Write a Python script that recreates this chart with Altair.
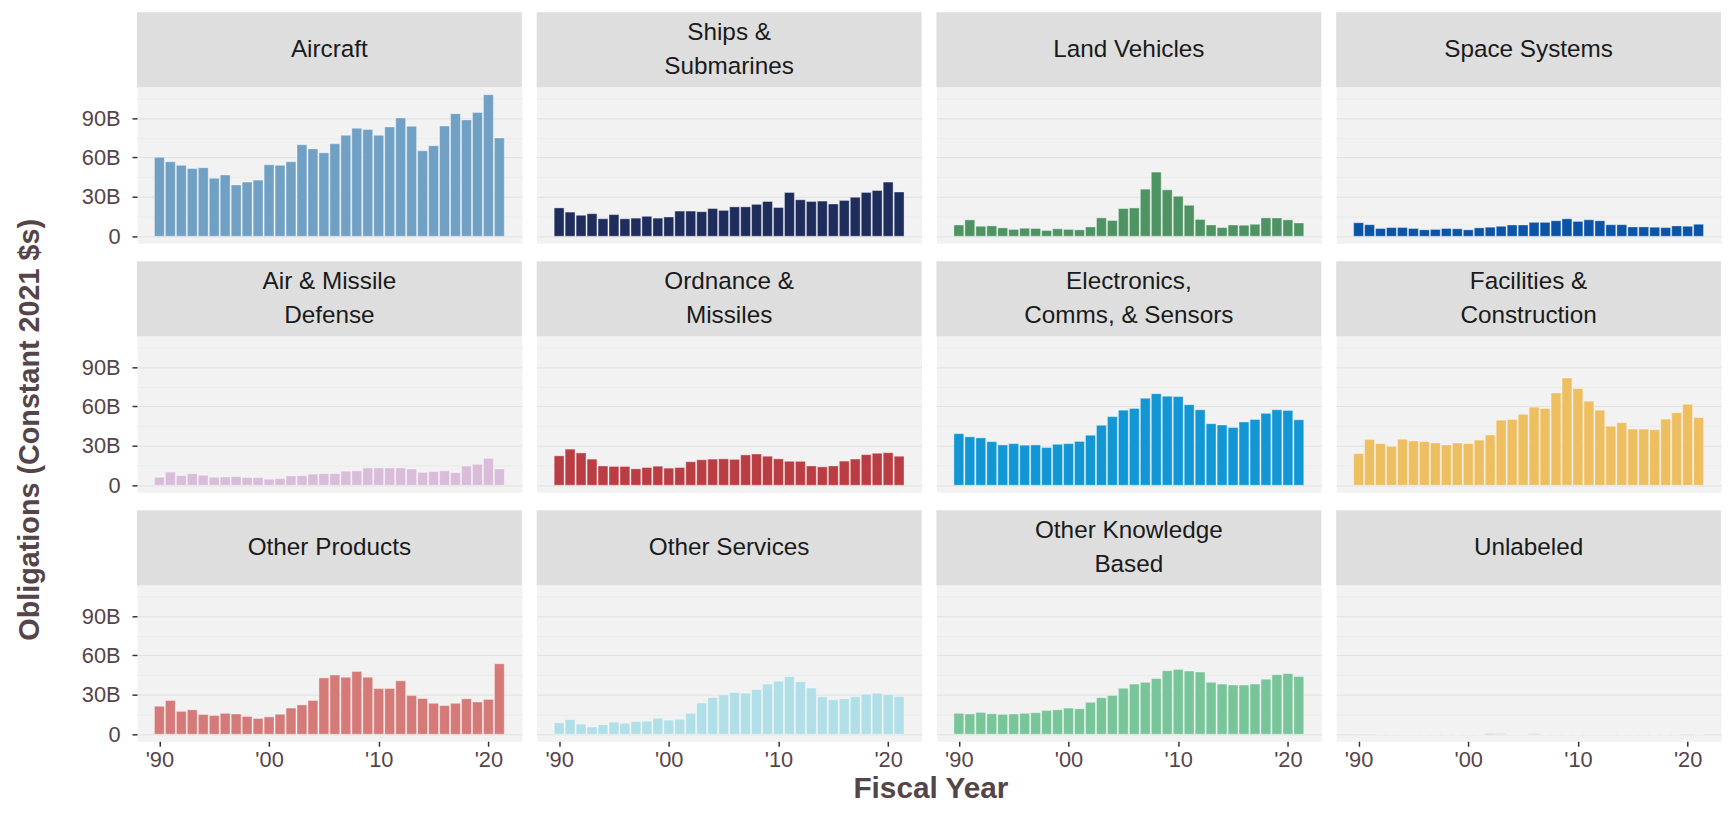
import altair as alt
import pandas as pd

years = list(range(1990, 2022))

categories = [
    "Aircraft", "Ships &\nSubmarines", "Land Vehicles", "Space Systems",
    "Air & Missile\nDefense", "Ordnance &\nMissiles", "Electronics,\nComms, & Sensors", "Facilities &\nConstruction",
    "Other Products", "Other Services", "Other Knowledge\nBased", "Unlabeled",
]

colors = [
    "#70A0C4", "#1E2D5C", "#4E9462", "#0A53A5",
    "#D9BCD9", "#B93D42", "#1297D4", "#EDBF61",
    "#D47B79", "#B1DFE8", "#79C59A", "#A0A0A0",
]

aircraft = [60.2, 56.8, 54.1, 51.6, 52.3, 44.2, 46.7, 39.1, 41.3, 42.8, 54.5, 54.1, 56.8, 69.8, 66.6, 63.6,
            70.5, 76.9, 82.3, 81.3, 76.9, 83.3, 90.2, 83.8, 65.1, 69.0, 84.0, 93.4, 88.7, 94.3, 107.9, 74.9]
ships = [21.6, 18.4, 16.0, 17.2, 13.3, 16.5, 13.3, 13.8, 15.2, 13.8, 14.7, 19.2, 19.2, 18.7, 21.1, 19.7,
         22.4, 22.4, 24.3, 26.5, 21.9, 33.4, 27.8, 26.5, 26.8, 24.6, 27.3, 29.7, 33.4, 34.9, 41.3, 33.7]
land = [8.6, 12.5, 7.6, 7.9, 6.4, 5.2, 6.1, 5.9, 4.4, 5.7, 5.2, 4.9, 7.1, 14.0, 12.0, 21.1,
        21.6, 35.9, 48.9, 35.4, 30.5, 23.6, 12.8, 8.6, 6.6, 8.6, 8.4, 9.1, 14.0, 14.0, 12.5, 10.1]
space = [10.3, 8.8, 5.9, 6.6, 6.6, 5.9, 4.9, 5.2, 5.9, 5.7, 4.9, 6.4, 6.9, 7.6, 8.6, 8.6,
         10.6, 10.6, 11.8, 13.3, 11.3, 12.5, 11.8, 8.8, 8.8, 7.1, 7.1, 6.9, 6.6, 7.9, 7.6, 9.1]
air_missile = [6.1, 10.0, 7.3, 8.8, 7.6, 6.1, 6.3, 6.6, 5.9, 5.9, 4.6, 5.1, 7.1, 7.3, 8.5, 8.8,
               8.8, 10.7, 11.0, 13.2, 13.2, 13.2, 13.2, 12.4, 9.8, 10.5, 11.0, 9.5, 14.6, 15.9, 20.5, 12.4]
ordnance = [22.4, 27.5, 24.6, 19.9, 14.7, 14.3, 14.3, 12.5, 13.5, 14.5, 13.0, 13.5, 17.9, 19.4, 19.9, 20.1,
            19.7, 23.1, 23.8, 22.1, 20.1, 18.2, 18.2, 14.7, 14.0, 14.7, 18.4, 19.9, 23.3, 24.3, 24.8, 22.1]
electronics = [39.3, 36.9, 36.1, 33.2, 30.7, 31.7, 30.5, 30.7, 28.7, 31.2, 31.7, 33.4, 38.1, 45.7, 52.3, 57.2,
               58.5, 66.3, 69.8, 67.8, 67.6, 61.4, 57.5, 46.9, 45.9, 44.0, 48.2, 50.1, 54.8, 57.5, 57.0, 49.9]
facilities = [24.1, 34.9, 31.7, 29.7, 35.1, 33.7, 33.2, 32.2, 30.7, 32.2, 31.7, 34.4, 38.3, 49.6, 50.1, 54.1,
              59.5, 58.5, 70.3, 81.8, 73.7, 64.1, 57.2, 45.0, 47.7, 42.8, 42.8, 42.3, 50.4, 55.3, 61.7, 51.6]
other_products = [21.3, 25.7, 17.4, 18.6, 15.0, 14.2, 15.9, 15.4, 13.5, 12.0, 13.2, 15.2, 19.9, 22.3, 25.7, 42.9,
                  45.1, 43.4, 47.8, 43.4, 34.8, 34.8, 40.7, 29.4, 27.2, 23.5, 21.8, 23.5, 27.0, 24.5, 26.5, 53.7]
other_services = [8.7, 11.2, 7.7, 5.5, 7.2, 9.2, 8.4, 9.7, 9.9, 12.2, 10.7, 11.4, 15.9, 23.8, 28.0, 30.0,
                  31.8, 31.3, 34.0, 38.2, 40.4, 43.9, 40.0, 35.2, 28.5, 26.3, 27.0, 28.5, 30.5, 31.3, 30.3, 28.8]
other_knowledge = [15.9, 15.4, 16.6, 15.6, 15.1, 15.4, 15.9, 16.4, 18.1, 18.6, 19.9, 19.4, 24.3, 27.8, 29.5, 35.0,
                   38.2, 39.5, 42.4, 48.4, 49.4, 48.1, 47.4, 39.5, 38.2, 37.5, 37.5, 38.2, 41.9, 45.4, 46.2, 43.9]
unlabeled = [0.1, 0.1, 0.0, 0.0, 0.0, 0.0, 0.0, 0.0, 0.0, 0.0, 0.0, 0.0, 0.4, 0.3, 0.0, 0.0,
             0.3, 0.0, 0.0, 0.0, 0.0, 0.0, 0.0, 0.0, 0.0, 0.0, 0.0, 0.0, 0.0, 0.0, 0.1, 0.0]

series = [aircraft, ships, land, space, air_missile, ordnance, electronics, facilities,
          other_products, other_services, other_knowledge, unlabeled]

y_ticks = [0, 15, 30, 45, 60, 75, 90, 105]
x_ticks = [1990, 2000, 2010, 2020]

W, SH, PH = 388, 76, 157
LINE_H = 34
FONT = "Liberation Sans"
TXT = "#554449"

grid_color = {"condition": {"test": "datum.value % 30 == 0", "value": "#E1E1E1"}, "value": "#EAEAEA"}
tick_color = {"condition": {"test": "datum.value % 30 == 0", "value": "#333333"}, "value": "transparent"}

x_scale = alt.Scale(domain=[1987.955, 2023.045], nice=False, zero=False)
y_scale = alt.Scale(domain=[-5.4, 113.3], nice=False, zero=False)


def make_cell(idx):
    row, col = divmod(idx, 4)
    label = categories[idx]
    n_lines = label.count("\n") + 1
    df = pd.DataFrame({"year": years, "value": series[idx]})

    strip_df = pd.DataFrame({"label": [label]})
    strip = alt.layer(
        alt.Chart(strip_df).mark_rect(color="#DEDEDE").encode(
            x=alt.value(0), x2=alt.value("width"), y=alt.value(0), y2=alt.value("height")
        ),
        alt.Chart(strip_df).mark_text(
            font=FONT, fontSize=24.5, color="#1A1A1A", lineBreak="\n", lineHeight=LINE_H,
            align="center", baseline="middle", dy=-(n_lines - 1) * LINE_H / 2,
        ).encode(text="label:N"),
    ).properties(width=W, height=SH)

    if col == 0:
        y_axis = alt.Axis(
            values=y_ticks, title=None, domain=False, labelOverlap=False, labelFlush=False,
            labelExpr="datum.value % 30 == 0 ? (datum.value == 0 ? '0' : datum.value + 'B') : ''",
            labelFont=FONT, labelFontSize=22, labelColor=TXT, labelPadding=12,
            tickColor=tick_color, tickSize=5, tickWidth=1.5, gridColor=grid_color, gridWidth=1,
        )
    else:
        y_axis = alt.Axis(
            values=y_ticks, title=None, domain=False, labels=False, ticks=False,
            gridColor=grid_color, gridWidth=1,
        )

    if row == 2:
        x_axis = alt.Axis(
            values=x_ticks, title=None, domain=False, grid=False, labelFlush=False,
            labelExpr="\"'\" + substring(toString(datum.value), 2)",
            labelFont=FONT, labelFontSize=22, labelColor=TXT, labelPadding=3,
            tickColor="#333333", tickSize=5, tickWidth=1.5,
        )
    else:
        x_axis = None

    bars = alt.Chart(df).transform_calculate(
        x0="datum.year - 0.45", x1="datum.year + 0.45"
    ).mark_bar(
        color=colors[idx], stroke="white", strokeWidth=0.6, strokeOpacity=0.6
    ).encode(
        x=alt.X("x0:Q", scale=x_scale, axis=x_axis),
        x2="x1:Q",
        y=alt.Y("value:Q", scale=y_scale, axis=y_axis),
        y2=alt.datum(0),
    ).properties(width=W, height=PH)

    return alt.vconcat(strip, bars, spacing=0, bounds="flush")


rows = []
for r in range(3):
    rows.append(alt.hconcat(*[make_cell(r * 4 + c) for c in range(4)], spacing=13))

grid = alt.vconcat(*rows, spacing=12).properties(
    title=alt.TitleParams(
        "Fiscal Year", orient="bottom", anchor="middle", font=FONT, fontSize=30,
        fontWeight="bold", color=TXT, offset=4, dx=30,
    )
)

chart = alt.vconcat(grid).properties(
    title=alt.TitleParams(
        "Obligations (Constant 2021 $s)", orient="left", anchor="middle", font=FONT,
        fontSize=29, fontWeight="bold", color=TXT, offset=36, dx=-22,
    ),
    padding={"left": 8, "top": 0, "right": 0, "bottom": 0},
).configure_view(fill="#F2F2F2", stroke="transparent")

chart.save("out.html", embed_options={"renderer": "svg", "actions": False})
